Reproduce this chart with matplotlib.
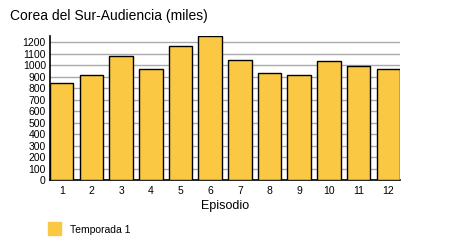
import numpy as np
import matplotlib.pyplot as plt
from matplotlib.patches import Rectangle

plt.rcParams['font.family'] = ['Liberation Sans', 'DejaVu Sans']

episodios = [str(i) for i in range(1, 13)]
audiencia = [843, 912, 1078, 965, 1165, 1255, 1043, 930, 912, 1034, 991, 965]
yticks = list(range(0, 1300, 100))

cor = '#FBC843'
w = 0.79

fig = plt.figure(figsize=(4.5, 2.5), dpi=100)
ax = fig.add_axes([50/450, 1 - 180/250, 350/450, 144/250])

x = np.arange(1, len(audiencia) + 1)
ax.bar(x, audiencia, width=w, color=cor, edgecolor='black', linewidth=1.0, zorder=3)

ax.set_xlim(1 - w/2, 12 + w/2)
ax.set_ylim(0, 1255)
ax.set_yticks(yticks)
ax.set_yticklabels([str(v) for v in yticks], fontsize=7.5)
ax.set_xticks(x)
ax.set_xticklabels(episodios, fontsize=7.5)
ax.tick_params(axis='y', length=0, pad=3)
ax.tick_params(axis='x', length=0, pad=4)
ax.grid(axis='y', color='#aaaaaa', linewidth=1, zorder=0)

for s in ['top', 'right']:
    ax.spines[s].set_visible(False)
ax.spines['left'].set_linewidth(1.2)
ax.spines['bottom'].set_linewidth(1.2)

ax.set_xlabel('Episodio', fontsize=9, labelpad=3)
fig.text(10/450, 1 - 16/250, 'Corea del Sur-Audiencia (miles)', fontsize=10, va='center')

fig.patches.append(Rectangle((48/450, 1 - 235/250), 13/450, 13/250,
                             transform=fig.transFigure, color=cor))
fig.text(70/450, 1 - 230/250, 'Temporada 1', fontsize=7.5, va='center')

fig.savefig('out.png')
